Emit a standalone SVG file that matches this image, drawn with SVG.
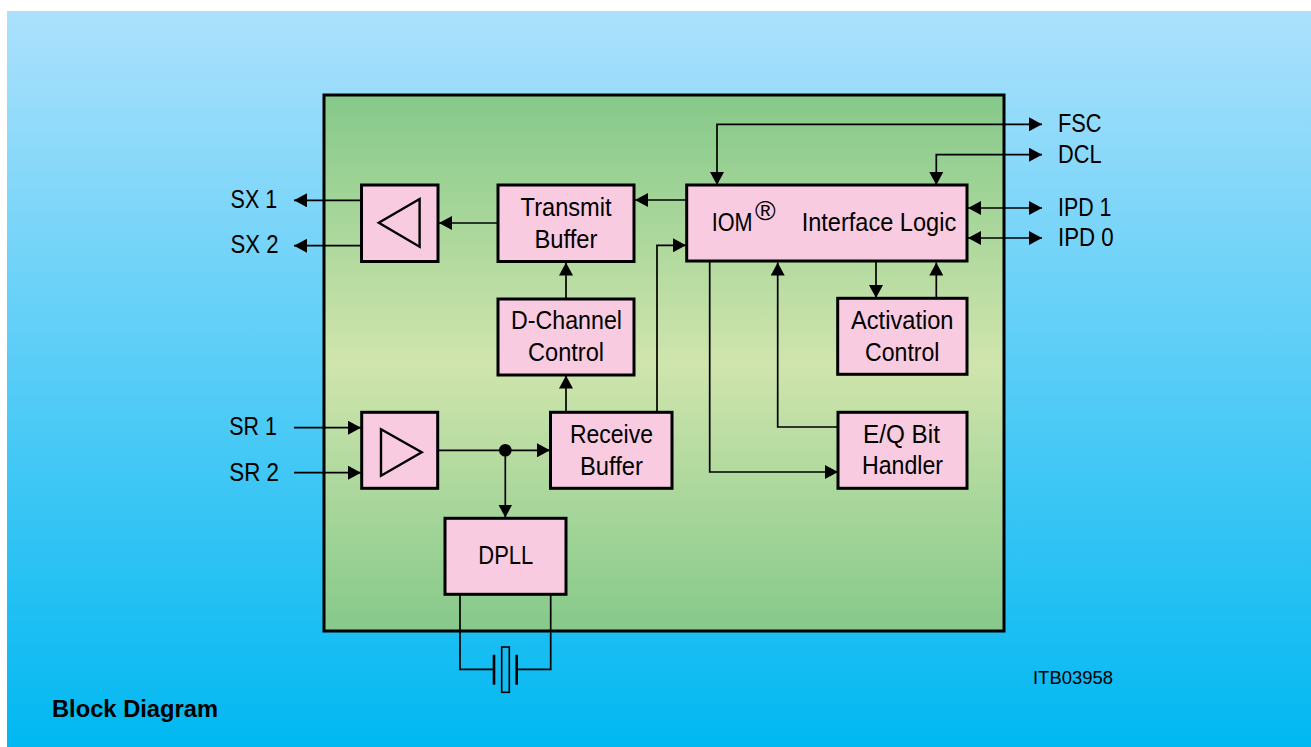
<svg xmlns="http://www.w3.org/2000/svg" width="1311" height="747" viewBox="0 0 1311 747">
<style>
text{font-family:"Liberation Sans",Arial,sans-serif;font-size:25.5px;fill:#000}
.box{fill:#f8cbe0;stroke:#000;stroke-width:3}
.ln{fill:none;stroke:#000;stroke-width:1.7}
.tri{fill:none;stroke:#000;stroke-width:2.4}
.thick{fill:none;stroke:#000;stroke-width:2.6}
</style>
<defs>
<linearGradient id="bg" x1="0" y1="0" x2="0" y2="1"><stop offset="0" stop-color="#ace1fc"/><stop offset="1" stop-color="#00b8f1"/></linearGradient>
<linearGradient id="chip" x1="0" y1="0" x2="0" y2="1"><stop offset="0" stop-color="#85c98a"/><stop offset="0.5" stop-color="#d0e5ad"/><stop offset="1" stop-color="#85c98a"/></linearGradient>
<marker id="ah" markerUnits="userSpaceOnUse" markerWidth="13" markerHeight="14" refX="13" refY="7" orient="auto-start-reverse"><path d="M0 0L13 7L0 14Z" fill="#000"/></marker>
</defs>
<rect x="7" y="11" width="1304" height="736" fill="url(#bg)"/>
<g id="chip-body"><rect x="324" y="95" width="680" height="536" fill="url(#chip)" stroke="#000" stroke-width="3"/></g>
<g id="connectors">
<path class="ln" d="M361 200.3H294" marker-end="url(#ah)"/>
<path class="ln" d="M361 245.7H294" marker-end="url(#ah)"/>
<path class="ln" d="M498 223H439" marker-end="url(#ah)"/>
<path class="ln" d="M686 200H635" marker-end="url(#ah)"/>
<path class="ln" d="M566 299V262.5" marker-end="url(#ah)"/>
<path class="ln" d="M566 412V375.5" marker-end="url(#ah)"/>
<path class="ln" d="M657 412V245.3H686" marker-end="url(#ah)"/>
<path class="ln" d="M294 427.7H361" marker-end="url(#ah)"/>
<path class="ln" d="M294 472.7H361" marker-end="url(#ah)"/>
<path class="ln" d="M438 450.3H550" marker-end="url(#ah)"/>
<circle cx="505.3" cy="450.3" r="6.3" fill="#000"/>
<path class="ln" d="M505.3 450.3V517.5" marker-end="url(#ah)"/>
<path class="ln" d="M717 185V124.3H1042" marker-start="url(#ah)" marker-end="url(#ah)"/>
<path class="ln" d="M936.3 185V154.7H1042" marker-start="url(#ah)" marker-end="url(#ah)"/>
<path class="ln" d="M968 208H1042" marker-start="url(#ah)" marker-end="url(#ah)"/>
<path class="ln" d="M968 238H1042" marker-start="url(#ah)" marker-end="url(#ah)"/>
<path class="ln" d="M876 262V298" marker-end="url(#ah)"/>
<path class="ln" d="M936.3 298V262.5" marker-end="url(#ah)"/>
<path class="ln" d="M709.7 262V472H838" marker-end="url(#ah)"/>
<path class="ln" d="M838 427H777.7V262.5" marker-end="url(#ah)"/>
<path class="ln" d="M460 594V669.3H494"/>
<path class="ln" d="M550.7 594V669.3H517"/>
</g>
<g id="crystal">
<path class="thick" d="M494 654.7V684.7M516.7 654.7V684.7"/>
<rect x="501.7" y="647" width="7.6" height="45.3" fill="none" stroke="#000" stroke-width="1.6"/>
</g>
<g id="tx-driver"><rect class="box" x="361.5" y="185" width="76.5" height="76.5"/><path class="tri" d="M419.6 199L378.8 222.7L419.6 246.7Z"/></g>
<g id="transmit-buffer"><rect class="box" x="498" y="185" width="136" height="76.5"/>
<text x="520.6" y="216" textLength="91" lengthAdjust="spacingAndGlyphs">Transmit</text>
<text x="534.5" y="247.7" textLength="63" lengthAdjust="spacingAndGlyphs">Buffer</text></g>
<g id="d-channel-control"><rect class="box" x="498" y="299" width="136" height="76"/>
<text x="511" y="329" textLength="111" lengthAdjust="spacingAndGlyphs">D-Channel</text>
<text x="528" y="361" textLength="76" lengthAdjust="spacingAndGlyphs">Control</text></g>
<g id="iom-interface-logic"><rect class="box" x="686.7" y="185" width="280.3" height="76"/>
<text transform="translate(711.7 231) scale(.85 1)">IOM</text>
<text x="755" y="219.5" style="font-size:28px">®</text>
<text x="801.7" y="231" textLength="154.5" lengthAdjust="spacingAndGlyphs">Interface Logic</text></g>
<g id="activation-control"><rect class="box" x="837.7" y="298.3" width="129.3" height="76"/>
<text x="851" y="328.7" textLength="102.5" lengthAdjust="spacingAndGlyphs">Activation</text>
<text x="865" y="360.7" textLength="74.5" lengthAdjust="spacingAndGlyphs">Control</text></g>
<g id="rx-receiver"><rect class="box" x="361.7" y="412.3" width="76" height="76"/><path class="tri" d="M381 429.3L421.7 452.3L381 475.7Z"/></g>
<g id="receive-buffer"><rect class="box" x="550.5" y="412.3" width="121.5" height="76"/>
<text x="570" y="443" textLength="83" lengthAdjust="spacingAndGlyphs">Receive</text>
<text x="580" y="474.5" textLength="63" lengthAdjust="spacingAndGlyphs">Buffer</text></g>
<g id="eq-bit-handler"><rect class="box" x="838" y="412.3" width="129" height="76"/>
<text x="863" y="442.5" textLength="77" lengthAdjust="spacingAndGlyphs">E/Q Bit</text>
<text x="862" y="474" textLength="81" lengthAdjust="spacingAndGlyphs">Handler</text></g>
<g id="dpll"><rect class="box" x="445" y="518.3" width="121" height="76"/>
<text x="478.3" y="563.8" textLength="55" lengthAdjust="spacingAndGlyphs">DPLL</text></g>
<g id="labels">
<text x="230.6" y="207.5" textLength="46.5" lengthAdjust="spacingAndGlyphs">SX 1</text>
<text x="230.6" y="252.5" textLength="48" lengthAdjust="spacingAndGlyphs">SX 2</text>
<text x="229.3" y="435" textLength="47.5" lengthAdjust="spacingAndGlyphs">SR 1</text>
<text x="229.3" y="480.7" textLength="49.7" lengthAdjust="spacingAndGlyphs">SR 2</text>
<text x="1058" y="132" textLength="43.5" lengthAdjust="spacingAndGlyphs">FSC</text>
<text x="1058" y="162.8" textLength="43.5" lengthAdjust="spacingAndGlyphs">DCL</text>
<text x="1058" y="216" textLength="53.5" lengthAdjust="spacingAndGlyphs">IPD 1</text>
<text x="1058" y="246" textLength="55.7" lengthAdjust="spacingAndGlyphs">IPD 0</text>
<text x="1033" y="684" textLength="80" lengthAdjust="spacingAndGlyphs" style="font-size:19px">ITB03958</text>
<text x="52" y="717" textLength="166" lengthAdjust="spacingAndGlyphs" style="font-size:23px;font-weight:bold">Block Diagram</text>
</g>
</svg>
